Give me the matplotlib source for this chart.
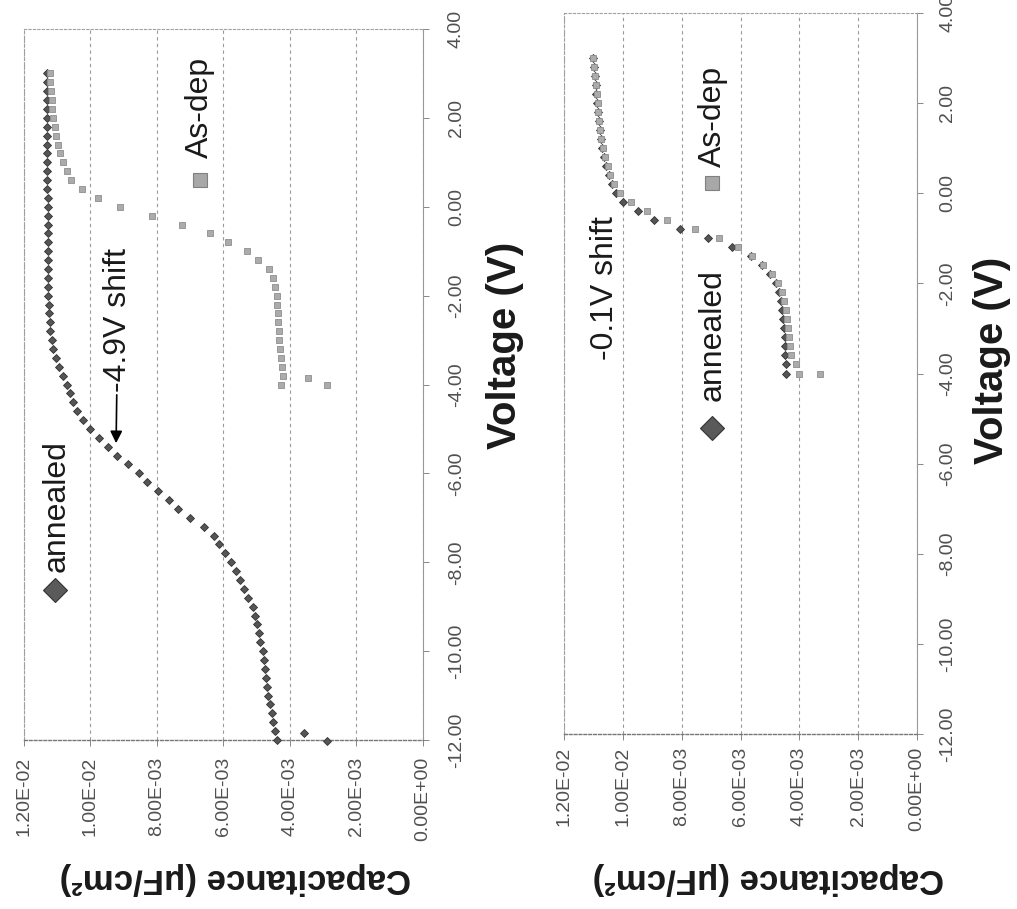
import matplotlib
matplotlib.use("Agg")
import matplotlib.pyplot as plt

plt.rcParams['font.family'] = ['Liberation Sans', 'DejaVu Sans']

# axis ticks
cap_ticks = [0.012, 0.010, 0.008, 0.006, 0.004, 0.002, 0.0]
cap_tick_labels = ["1.20E-02", "1.00E-02", "8.00E-03", "6.00E-03", "4.00E-03", "2.00E-03", "0.00E+00"]
volt_ticks = [-12, -10, -8, -6, -4, -2, 0, 2, 4]
volt_tick_labels = ["-12.00", "-10.00", "-8.00", "-6.00", "-4.00", "-2.00", "0.00", "2.00", "4.00"]

# ---- left panel: annealed (sweep -12 .. 3 V)
annealed_L_v = [-12.0, -11.8, -11.6, -11.4, -11.2, -11.0, -10.8, -10.6, -10.4, -10.2,
                -10.0, -9.8, -9.6, -9.4, -9.2, -9.0, -8.8, -8.6, -8.4, -8.2,
                -8.0, -7.8, -7.6, -7.4, -7.2, -7.0, -6.8, -6.6, -6.4, -6.2,
                -6.0, -5.8, -5.6, -5.4, -5.2, -5.0, -4.8, -4.6, -4.4, -4.2,
                -4.0, -3.8, -3.6, -3.4, -3.2, -3.0, -2.8, -2.6, -2.4, -2.2,
                -2.0, -1.8, -1.6, -1.4, -1.2, -1.0, -0.8, -0.6, -0.4, -0.2,
                0.0, 0.2, 0.4, 0.6, 0.8, 1.0, 1.2, 1.4, 1.6, 1.8,
                2.0, 2.2, 2.4, 2.6, 2.8, 3.0, -11.85, -12.03]
annealed_L_c = [0.00439, 0.00445, 0.00450, 0.00454, 0.00460, 0.00466, 0.00468, 0.00471, 0.00475, 0.00478,
                0.00482, 0.00489, 0.00493, 0.00498, 0.00505, 0.00512, 0.00525, 0.00537, 0.00549, 0.00562,
                0.00576, 0.00596, 0.00612, 0.00628, 0.00660, 0.00700, 0.00738, 0.00765, 0.00798, 0.00830,
                0.00855, 0.00886, 0.00920, 0.00948, 0.00975, 0.01000, 0.01024, 0.01040, 0.01053, 0.01063,
                0.01071, 0.01084, 0.01095, 0.01104, 0.01112, 0.01117, 0.01121, 0.01123, 0.01125, 0.01126,
                0.01127, 0.01127, 0.01128, 0.01128, 0.01128, 0.01128, 0.01129, 0.01129, 0.01129, 0.01129,
                0.01129, 0.01129, 0.01130, 0.01130, 0.01130, 0.01130, 0.01130, 0.01130, 0.01130, 0.01130,
                0.01130, 0.01130, 0.01130, 0.01130, 0.01130, 0.01130, 0.00358, 0.00289]

# ---- left panel: as-deposited (sweep -4 .. 3 V)
asdep_L_v = [-4.0, -3.8, -3.6, -3.4, -3.2, -3.0, -2.8, -2.6, -2.4, -2.2,
             -2.0, -1.8, -1.6, -1.4, -1.2, -1.0, -0.8, -0.6, -0.4, -0.2,
             0.0, 0.2, 0.4, 0.6, 0.8, 1.0, 1.2, 1.4, 1.6, 1.8,
             2.0, 2.2, 2.4, 2.6, 2.8, 3.0, -3.86, -4.02]
asdep_L_c = [0.00427, 0.00422, 0.00425, 0.00428, 0.00430, 0.00432, 0.00434, 0.00435, 0.00436, 0.00438,
             0.00440, 0.00445, 0.00452, 0.00462, 0.00496, 0.00530, 0.00586, 0.00640, 0.00725, 0.00815,
             0.00911, 0.00977, 0.01026, 0.01058, 0.01072, 0.01083, 0.01092, 0.01099, 0.01104, 0.01108,
             0.01112, 0.01115, 0.01117, 0.01119, 0.01121, 0.01122, 0.00346, 0.00289]

# ---- right panel: annealed (sweep -4 .. 3 V)
annealed_R_v = [-4.0, -3.8, -3.6, -3.4, -3.2, -3.0, -2.8, -2.6, -2.4, -2.2,
                -2.0, -1.8, -1.6, -1.4, -1.2, -1.0, -0.8, -0.6, -0.4, -0.2,
                0.0, 0.2, 0.4, 0.6, 0.8, 1.0, 1.2, 1.4, 1.6, 1.8,
                2.0, 2.2, 2.4, 2.6, 2.8, 3.0]
annealed_R_c = [0.00445, 0.00447, 0.00448, 0.00449, 0.00450, 0.00452, 0.00455, 0.00458, 0.00463, 0.00470,
                0.00480, 0.00500, 0.00527, 0.00565, 0.00630, 0.00710, 0.00806, 0.00893, 0.00950, 0.01000,
                0.01022, 0.01036, 0.01048, 0.01056, 0.01064, 0.01070, 0.01075, 0.01079, 0.01082, 0.01085,
                0.01087, 0.01090, 0.01093, 0.01096, 0.01099, 0.01102]

# ---- right panel: as-deposited (sweep -4 .. 3 V)
asdep_R_v = [-4.0, -3.8, -3.6, -3.4, -3.2, -3.0, -2.8, -2.6, -2.4, -2.2,
             -2.0, -1.8, -1.6, -1.4, -1.2, -1.0, -0.8, -0.6, -0.4, -0.2,
             0.0, 0.2, 0.4, 0.6, 0.8, 1.0, 1.2, 1.4, 1.6, 1.8,
             2.0, 2.2, 2.4, 2.6, 2.8, 3.0, -4.0]
asdep_R_c = [0.00400, 0.00412, 0.00428, 0.00432, 0.00435, 0.00438, 0.00442, 0.00446, 0.00452, 0.00460,
             0.00473, 0.00494, 0.00522, 0.00560, 0.00610, 0.00672, 0.00755, 0.00850, 0.00918, 0.00972,
             0.01010, 0.01030, 0.01043, 0.01052, 0.01060, 0.01067, 0.01073, 0.01077, 0.01080, 0.01083,
             0.01085, 0.01088, 0.01091, 0.01094, 0.01097, 0.01100, 0.00330]

DIAMOND = dict(marker='D', ls='none', ms=3.9, mfc='#555555', mec='#333333', mew=0.6, clip_on=False)
SQUARE = dict(marker='s', ls='none', ms=5.0, mfc='#ababab', mec='#8e8e8e', mew=0.6, clip_on=False)
TXT = '#1a1a1a'


def style_axes(ax, ypad, xpad):
    ax.set_xlim(0.012, 0.0)
    ax.set_ylim(-12, 4)
    ax.set_xticks(cap_ticks)
    ax.set_xticklabels(cap_tick_labels, rotation=90, fontsize=14, color='#505050')
    ax.yaxis.tick_right()
    ax.set_yticks(volt_ticks)
    ax.set_yticklabels(volt_tick_labels, rotation=90, va='center', fontsize=14, color='#505050')
    ax.tick_params(axis='x', direction='out', length=4, width=0.7, color='#888888', pad=xpad)
    ax.tick_params(axis='y', direction='out', length=4, width=0.7, color='#888888', pad=ypad)
    ax.grid(axis='x', color='#9a9a9a', lw=0.8, ls=(0, (3, 3)))
    for side in ['left', 'top']:
        ax.spines[side].set_color('#a0a0a0')
        ax.spines[side].set_linewidth(0.8)
        ax.spines[side].set_linestyle((0, (2, 2)))
    ax.spines['bottom'].set_color('#777777')
    ax.spines['bottom'].set_linewidth(1.0)
    ax.spines['bottom'].set_linestyle((0, (2, 1.5)))
    ax.spines['right'].set_color('#999999')
    ax.spines['right'].set_linewidth(0.8)
    ax.set_facecolor('white')


def legend_keys(ax, ann_xy, ann_txt_xy, dep_xy, dep_txt_xy):
    ax.plot(*ann_xy, transform=ax.transAxes, marker='D', ms=12.5, mfc='#5a5a5a',
            mec='#333333', mew=0.8, ls='none', clip_on=False)
    ax.text(*ann_txt_xy, "annealed", transform=ax.transAxes, rotation=90,
            ha='center', va='bottom', fontsize=23, color=TXT)
    ax.plot(*dep_xy, transform=ax.transAxes, marker='s', ms=9.5, mfc='#a8a8a8',
            mec='#808080', mew=0.8, ls='none', clip_on=False)
    ax.text(*dep_txt_xy, "As-dep", transform=ax.transAxes, rotation=90,
            ha='center', va='bottom', fontsize=23, color=TXT)


fig = plt.figure(figsize=(10.17, 9.09), dpi=100)
axL = fig.add_axes([0.0236, 0.1859, 0.3923, 0.7822])
axR = fig.add_axes([0.5546, 0.1925, 0.3471, 0.7932])

style_axes(axL, ypad=14, xpad=8)
style_axes(axR, ypad=12, xpad=5)

axL.plot(annealed_L_c, annealed_L_v, zorder=3, **DIAMOND)
axL.plot(asdep_L_c, asdep_L_v, zorder=4, **SQUARE)
axR.plot(annealed_R_c, annealed_R_v, zorder=3, **DIAMOND)
axR.plot(asdep_R_c, asdep_R_v, zorder=4, **SQUARE)

legend_keys(axL, (0.078, 0.211), (0.082, 0.237), (0.441, 0.788), (0.441, 0.818))
legend_keys(axR, (0.419, 0.424), (0.422, 0.462), (0.419, 0.764), (0.421, 0.786))

axL.annotate("-4.9V shift", xy=(0.00923, -5.32), xytext=(0.00918, -4.17),
             rotation=90, ha='center', va='bottom', fontsize=23, color=TXT,
             arrowprops=dict(arrowstyle='-|>', color='black', lw=1.2,
                             mutation_scale=18, shrinkA=0, shrinkB=0))
axR.text(0.01060, -3.70, "-0.1V shift", rotation=90, ha='center', va='bottom',
         fontsize=23, color=TXT)

# axis titles (chart is turned on its side)
fig.text(0.4966, 0.6205, "Voltage (V)", rotation=90, ha='center', va='center',
         fontsize=29, fontweight='bold', color=TXT)
fig.text(0.975, 0.604, "Voltage (V)", rotation=90, ha='center', va='center',
         fontsize=29, fontweight='bold', color=TXT)
fig.text(0.231, 0.034, "Capacitance (\u03bcF/cm\u00b2)", rotation=180, ha='center', va='center',
         fontsize=25, fontweight='bold', color=TXT)
fig.text(0.755, 0.034, "Capacitance (\u03bcF/cm\u00b2)", rotation=180, ha='center', va='center',
         fontsize=25, fontweight='bold', color=TXT)

fig.savefig("out.png", dpi=100)
